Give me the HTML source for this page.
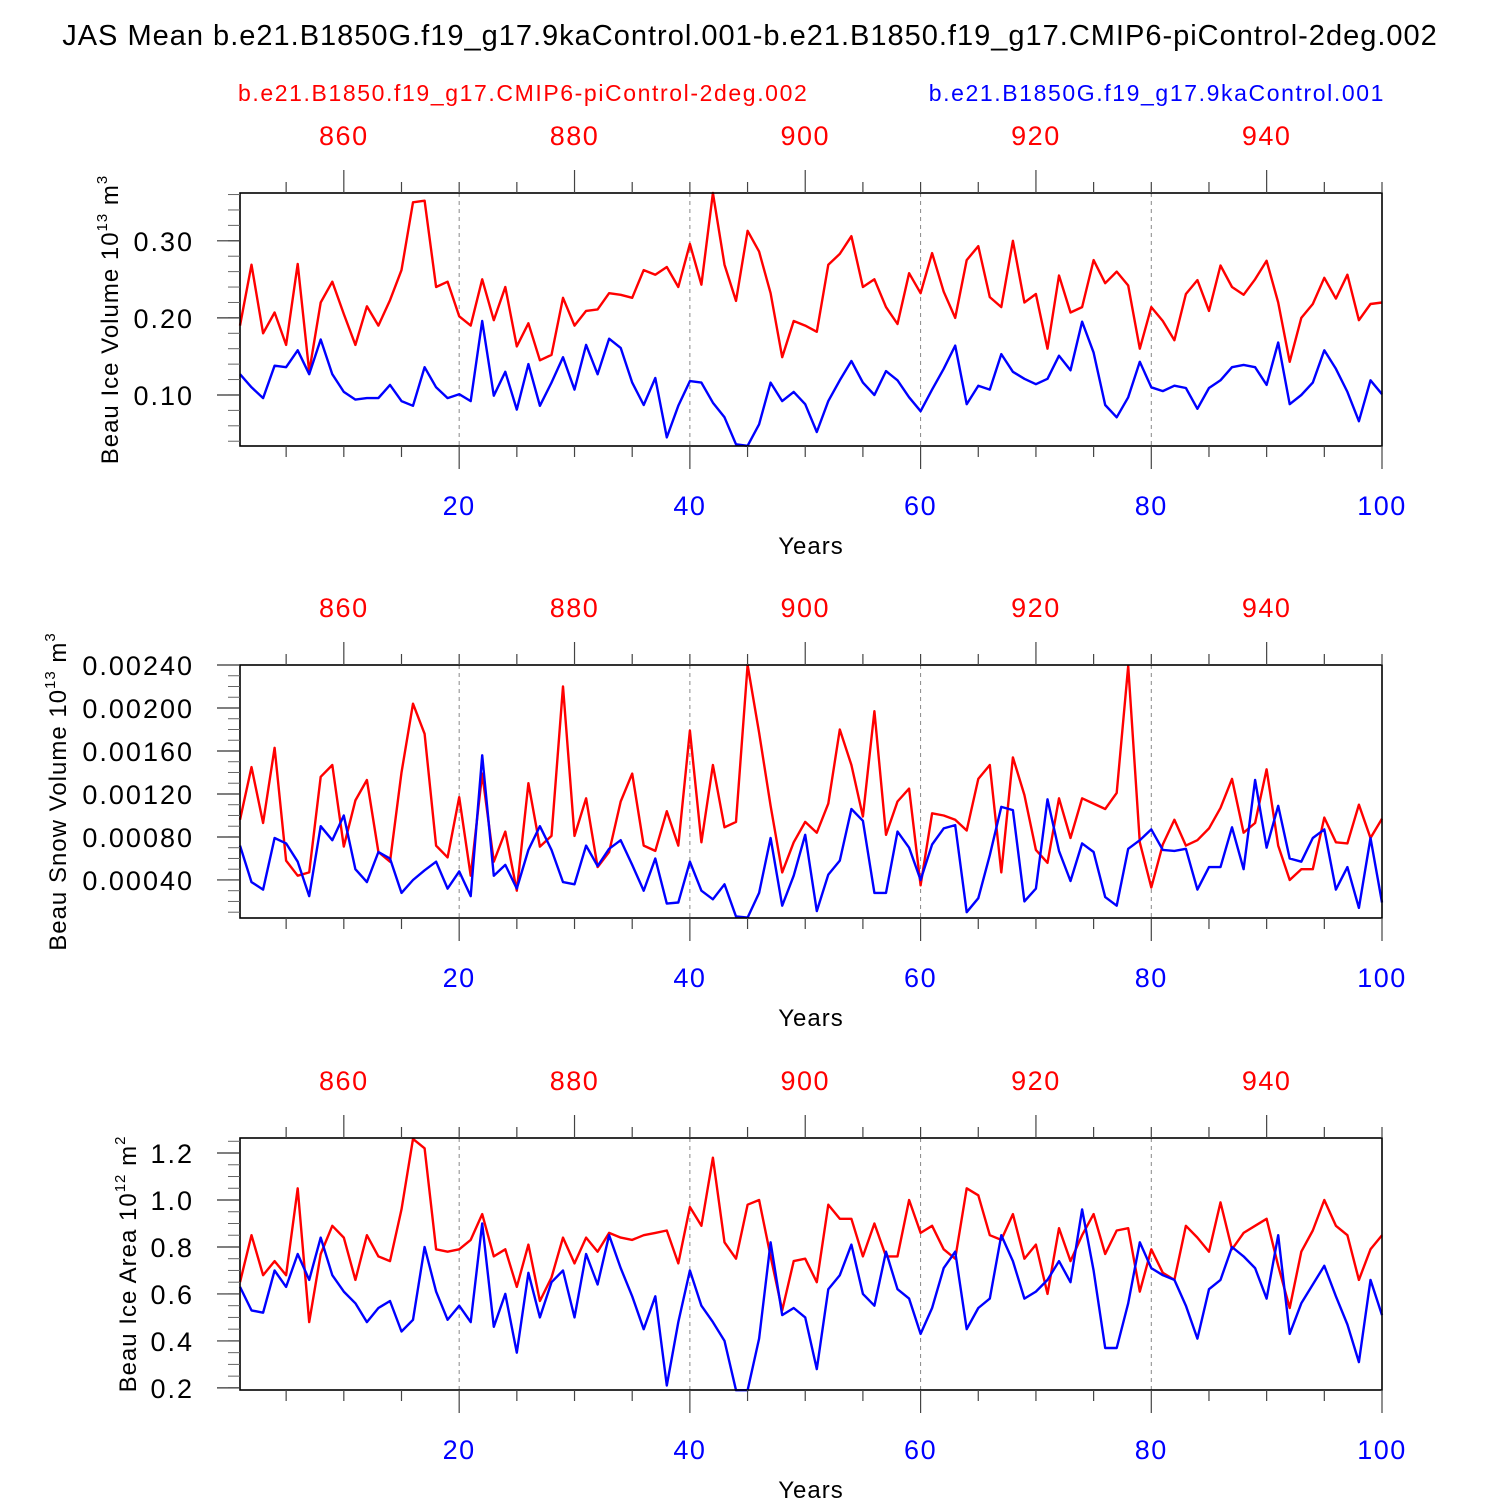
<!DOCTYPE html>
<html><head><meta charset="utf-8"><style>
html,body{margin:0;padding:0;background:#fff}
svg{display:block;font-family:"Liberation Sans",Arial,sans-serif}
</style></head><body>
<svg id="c" width="1500" height="1500" viewBox="0 0 1500 1500" xmlns="http://www.w3.org/2000/svg">
<text x="750" y="45" font-size="29" letter-spacing="1" text-anchor="middle">JAS Mean b.e21.B1850G.f19_g17.9kaControl.001-b.e21.B1850.f19_g17.CMIP6-piControl-2deg.002</text>
<text x="238" y="101" font-size="23" letter-spacing="1.6" fill="#f00">b.e21.B1850.f19_g17.CMIP6-piControl-2deg.002</text>
<text x="1385" y="101" font-size="23" letter-spacing="1.6" fill="#00f" text-anchor="end">b.e21.B1850G.f19_g17.9kaControl.001</text>
</svg>
<script>
const years = Array.from({length:100},(_, i)=>i+1);
const iceVolRed = [0.19,0.269,0.18,0.207,0.165,0.27,0.13,0.22,0.247,0.205,0.165,0.215,0.19,0.223,0.262,0.35,0.352,0.24,0.247,0.202,0.19,0.25,0.197,0.24,0.163,0.193,0.145,0.152,0.226,0.19,0.209,0.211,0.232,0.23,0.226,0.262,0.256,0.266,0.24,0.296,0.243,0.362,0.269,0.222,0.313,0.286,0.232,0.149,0.196,0.19,0.182,0.269,0.283,0.306,0.24,0.25,0.214,0.192,0.258,0.232,0.284,0.234,0.2,0.275,0.293,0.227,0.214,0.3,0.22,0.231,0.16,0.255,0.207,0.214,0.275,0.245,0.26,0.242,0.16,0.214,0.196,0.171,0.231,0.249,0.209,0.268,0.24,0.23,0.25,0.274,0.22,0.143,0.2,0.218,0.252,0.225,0.256,0.197,0.218,0.22];
const iceVolBlue = [0.127,0.11,0.096,0.138,0.136,0.158,0.127,0.172,0.127,0.104,0.094,0.096,0.096,0.113,0.092,0.086,0.136,0.11,0.096,0.101,0.092,0.196,0.099,0.13,0.081,0.14,0.086,0.116,0.149,0.107,0.165,0.127,0.173,0.161,0.116,0.087,0.122,0.045,0.086,0.118,0.116,0.09,0.071,0.036,0.034,0.062,0.116,0.092,0.104,0.088,0.052,0.092,0.119,0.144,0.116,0.1,0.131,0.119,0.097,0.079,0.107,0.134,0.164,0.088,0.112,0.107,0.153,0.13,0.121,0.114,0.121,0.151,0.132,0.195,0.155,0.087,0.071,0.097,0.143,0.11,0.105,0.112,0.109,0.082,0.109,0.119,0.136,0.139,0.136,0.113,0.168,0.088,0.1,0.116,0.158,0.134,0.104,0.066,0.119,0.101];
const snowRed = [96,145,93,163,58,44,47,136,147,71,114,133,66,57,140,204,176,72,61,117,44,139,57,85,30,130,71,81,220,81,116,52,66,113,139,72,67,104,72,179,75,147,89,94,240,177,109,47,75,94,84,111,180,147,99,197,82,113,125,35,102,100,96,86,134,147,47,154,119,68,56,116,79,116,111,106,121,239,75,33,73,96,72,77,88,107,134,84,93,143,72,40,50,50,98,75,74,110,79,97].map(v=>v*1e-5);
const snowBlue = [72,38,31,79,74,57,25,90,77,100,50,38,66,60,28,40,49,57,32,48,25,156,44,54,32,68,90,68,38,36,72,53,69,77,54,30,60,18,19,57,30,22,36,6,5,28,79,16,44,82,11,45,58,106,95,28,28,85,70,40,73,88,91,10,23,63,108,105,20,32,115,67,39,74,66,24,16,69,77,87,68,67,69,31,52,52,89,50,133,70,109,60,57,79,87,31,52,14,79,19].map(v=>v*1e-5);
const areaRed = [0.65,0.85,0.68,0.74,0.68,1.05,0.48,0.77,0.89,0.84,0.66,0.85,0.76,0.74,0.96,1.26,1.22,0.79,0.78,0.79,0.83,0.94,0.76,0.79,0.63,0.81,0.57,0.67,0.84,0.73,0.84,0.78,0.86,0.84,0.83,0.85,0.86,0.87,0.73,0.97,0.89,1.18,0.82,0.75,0.98,1.0,0.76,0.53,0.74,0.75,0.65,0.98,0.92,0.92,0.76,0.9,0.76,0.76,1.0,0.86,0.89,0.79,0.75,1.05,1.02,0.85,0.83,0.94,0.75,0.81,0.6,0.88,0.74,0.85,0.94,0.77,0.87,0.88,0.61,0.79,0.69,0.66,0.89,0.84,0.78,0.99,0.79,0.86,0.89,0.92,0.72,0.54,0.78,0.87,1.0,0.89,0.85,0.66,0.79,0.85];
const areaBlue = [0.63,0.53,0.52,0.7,0.63,0.77,0.66,0.84,0.68,0.61,0.56,0.48,0.54,0.57,0.44,0.49,0.8,0.61,0.49,0.55,0.48,0.9,0.46,0.6,0.35,0.69,0.5,0.65,0.7,0.5,0.77,0.64,0.85,0.71,0.59,0.45,0.59,0.21,0.48,0.7,0.55,0.48,0.4,0.19,0.19,0.41,0.82,0.51,0.54,0.5,0.28,0.62,0.68,0.81,0.6,0.55,0.78,0.62,0.58,0.43,0.54,0.71,0.78,0.45,0.54,0.58,0.85,0.74,0.58,0.61,0.66,0.74,0.65,0.96,0.7,0.37,0.37,0.56,0.82,0.71,0.68,0.66,0.55,0.41,0.62,0.66,0.8,0.76,0.71,0.58,0.85,0.43,0.56,0.64,0.72,0.59,0.47,0.31,0.66,0.51];
const bottomTicks = [20,40,60,80,100];
const topTicks = [860,880,900,920,940];

const NS='http://www.w3.org/2000/svg';
const svg=document.getElementById('c');
const X0=240,X1=1382;
function xs(y){return X0+(y-1)*(X1-X0)/99;}
function mk(tag,attrs,parent){const e=document.createElementNS(NS,tag);for(const k in attrs)e.setAttribute(k,attrs[k]);(parent||svg).appendChild(e);return e;}

const panels=[
 {name:'ice-volume',top:193,bot:446,ymin:0.0338,ymax:0.362,ticks:[0.1,0.2,0.3],fmt:2,minor:0.02,red:iceVolRed,blue:iceVolBlue,title:'Beau Ice Volume 10',exp:'13',unit:' m',uexp:'3',tx:118},
 {name:'snow-volume',top:665,bot:918,ymin:0.000046,ymax:0.0024,ticks:[0.0004,0.0008,0.0012,0.0016,0.002,0.0024],fmt:5,minor:0.0001,red:snowRed,blue:snowBlue,title:'Beau Snow Volume 10',exp:'13',unit:' m',uexp:'3',tx:66},
 {name:'ice-area',top:1138,bot:1390,ymin:0.191,ymax:1.264,ticks:[0.2,0.4,0.6,0.8,1.0,1.2],fmt:1,minor:0.05,red:areaRed,blue:areaBlue,title:'Beau Ice Area 10',exp:'12',unit:' m',uexp:'2',tx:136}
];
panels.forEach(p=>{
 const g=mk('g',{});
 
 
 const ys=v=>p.bot-(v-p.ymin)/(p.ymax-p.ymin)*(p.bot-p.top);
 [20,40,60,80].forEach(y=>{const l=mk('line',{x1:xs(y),x2:xs(y),y1:p.top,y2:p.bot,stroke:'#888','stroke-width':1,'stroke-dasharray':'4,4'},g);
  
  });
 [['red',p.red,'#f00'],['blue',p.blue,'#00f']].forEach(([n,arr,col])=>{
  const pts=arr.map((v,i)=>xs(years[i]).toFixed(1)+','+ys(v).toFixed(1)).join(' ');
  const pl=mk('polyline',{points:pts,fill:'none',stroke:col,'stroke-width':2.4,'stroke-linejoin':'round'},g);
  
  
 });
 const r=mk('rect',{x:X0,y:p.top,width:X1-X0,height:p.bot-p.top,fill:'none',stroke:'#000','stroke-width':1.6},g);
 
 
 for(let y=5;y<=100;y+=5){const maj=y%20===0;mk('line',{x1:xs(y),x2:xs(y),y1:p.bot,y2:p.bot+(maj?23:11),stroke:'#444','stroke-width':1.2},g);}
 bottomTicks.forEach(y=>{const t=mk('text',{x:xs(y),y:p.bot+69,'font-size':27,'letter-spacing':1.5,fill:'#00f','text-anchor':'middle'},g);t.textContent=y;
  
  });
 const xt=mk('text',{x:811,y:p.bot+108,'font-size':24,'letter-spacing':1,'text-anchor':'middle'},g);xt.textContent='Years';
 
 
 for(let t=855;t<=950;t+=5){const y=t-850;if(y<1||y>100)continue;const maj=t%20===0;mk('line',{x1:xs(y),x2:xs(y),y1:p.top,y2:p.top-(maj?23:11),stroke:'#444','stroke-width':1.2},g);}
 topTicks.forEach(t=>{const e=mk('text',{x:xs(t-850),y:p.top-48,'font-size':27,'letter-spacing':1.5,fill:'#f00','text-anchor':'middle'},g);e.textContent=t;
  
  });
 for(let v=Math.ceil(p.ymin/p.minor)*p.minor;v<=p.ymax+1e-9;v+=p.minor){const yy=ys(v);mk('line',{x1:X0,x2:X0-12,y1:yy,y2:yy,stroke:'#666','stroke-width':1},g);}
 p.ticks.forEach(v=>{const yy=ys(v);mk('line',{x1:X0,x2:X0-23,y1:yy,y2:yy,stroke:'#333','stroke-width':1.2},g);
  const t=mk('text',{x:X0-46,y:yy+10,'font-size':27,'letter-spacing':2,'text-anchor':'end'},g);t.textContent=v.toFixed(p.fmt);
  
  });
 const cy=(p.top+p.bot)/2;
 const yt=mk('text',{x:0,y:0,'font-size':24,'letter-spacing':1,'text-anchor':'middle',transform:`translate(${p.tx},${cy}) rotate(-90)`},g);
 
 
 const a=mk('tspan',{},yt);a.textContent=p.title;
 const b=mk('tspan',{'font-size':15,dy:-11},yt);b.textContent=p.exp;
 const c=mk('tspan',{dy:11},yt);c.textContent=p.unit;
 const d=mk('tspan',{'font-size':15,dy:-11},yt);d.textContent=p.uexp;
});
</script>
</body></html>
